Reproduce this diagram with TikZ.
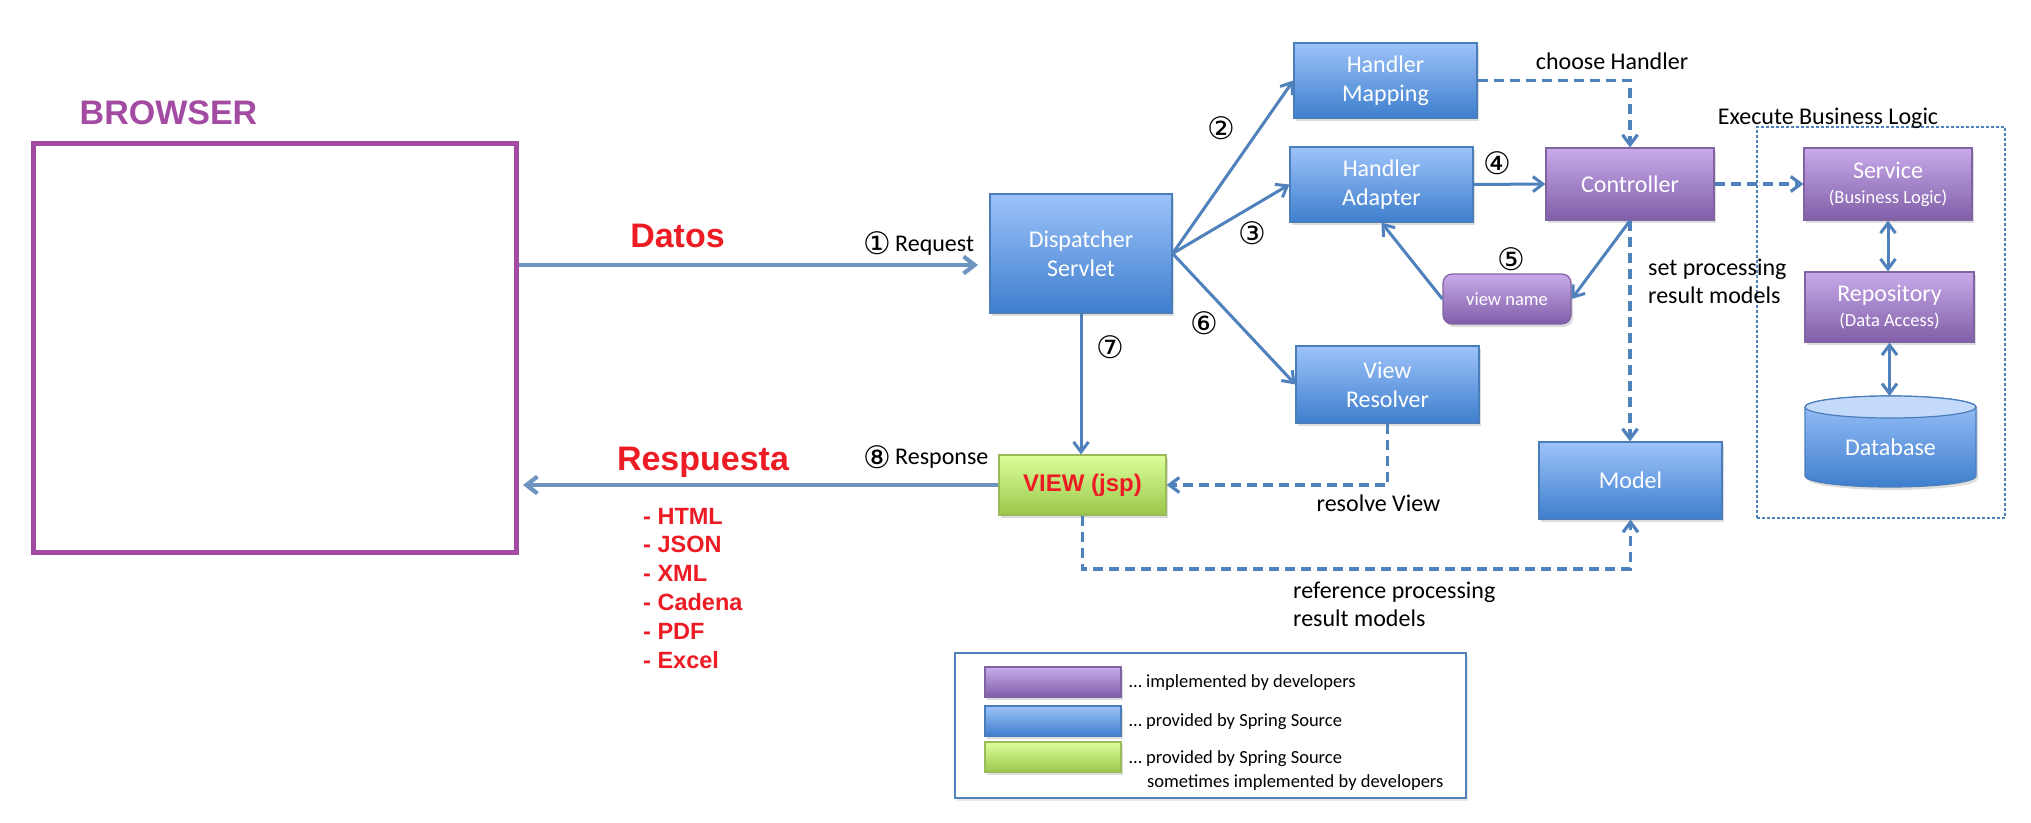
\documentclass[tikz,border=0pt]{standalone}
\usepackage{fontspec}
\setmainfont{Carlito}
\newfontfamily\lsans{Liberation Sans}
\newfontfamily\dvs{DejaVu Sans}
\usetikzlibrary{arrows.meta,shadows,shadings}
\newcommand\fsz[2]{\fontsize{#1}{#2}\selectfont}
\definecolor{purp}{RGB}{163,74,163}
\definecolor{redc}{RGB}{237,28,36}
\definecolor{arrowblue}{RGB}{79,129,189}
\definecolor{datablue}{RGB}{111,148,194}
\definecolor{bluetop}{RGB}{157,195,250}
\definecolor{bluebot}{RGB}{62,126,205}
\definecolor{blueedge}{RGB}{74,126,187}
\definecolor{purptop}{RGB}{200,170,234}
\definecolor{purpbot}{RGB}{128,94,168}
\definecolor{purpedge}{RGB}{128,100,162}
\definecolor{greentop}{RGB}{220,255,155}
\definecolor{greenbot}{RGB}{155,198,75}
\definecolor{greenedge}{RGB}{155,187,89}
\definecolor{dbtopc}{RGB}{195,218,250}
\definecolor{legedge}{RGB}{79,129,189}
\tikzset{
  box/.style={rectangle, inner sep=0pt, align=center, text=white, font=\fsz{24}{29},
    line width=1.2pt, drop shadow={shadow xshift=2pt, shadow yshift=-3pt, opacity=0.22, fill=black!60}},
  bluebox/.style={box, draw=blueedge, top color=bluetop, bottom color=bluebot},
  purplebox/.style={box, draw=purpedge, top color=purptop, bottom color=purpbot},
  greenbox/.style={box, draw=greenedge, top color=greentop, bottom color=greenbot},
  arr/.style={draw=arrowblue, line width=3pt, -{Straight Barb[length=10pt,width=15pt]}},
  bigarr/.style={draw=datablue, line width=4.2pt, -{Straight Barb[length=11pt,width=17pt]}},
  dasharr/.style={draw=arrowblue, line width=3.2pt, dash pattern=on 10pt off 6pt, -{Straight Barb[length=10pt,width=15pt]}},
  dbl/.style={draw=arrowblue, line width=3pt, {Straight Barb[length=10pt,width=15pt]}-{Straight Barb[length=10pt,width=15pt]}},
  lbl/.style={font=\fsz{24}{28.5}, inner sep=0pt, text=black},
  leg/.style={font=\fsz{18.5}{22}, inner sep=0pt, text=black},
  num/.style={font=\dvs\fsz{31}{34}, inner sep=0pt, text=black},
  redbig/.style={font=\lsans\bfseries\fsz{34}{40}, text=redc, inner sep=0pt},
  redsmall/.style={font=\lsans\bfseries\fsz{23.5}{28}, text=redc, inner sep=0pt},
}
\begin{document}
\begin{tikzpicture}[x=1pt,y=-1pt]
\useasboundingbox[fill=white] (0,0) rectangle (2031,822);

% browser
\node[redbig, text=purp, anchor=base] (browsertitle) at (168.5,124) {BROWSER};
\node[draw=purp, line width=5pt, minimum width=483pt, minimum height=409pt, inner sep=0pt] (browser) at (275,348) {};

% main boxes
\node[bluebox, minimum width=182pt, minimum height=119pt] (ds) at (1081,253.5) {Dispatcher\\Servlet};
\node[bluebox, minimum width=183pt, minimum height=75pt] (hm) at (1385.5,80.5) {Handler\\Mapping};
\node[bluebox, minimum width=183pt, minimum height=75pt] (ha) at (1381.5,184.5) {Handler\\Adapter};
\node[purplebox, minimum width=168pt, minimum height=72pt] (ctrl) at (1630,184) {Controller};
\node[purplebox, rounded corners=9pt, minimum width=128pt, minimum height=50pt, font=\fsz{18.5}{22}] (vn) at (1507,299) {view name};
\node[bluebox, minimum width=183pt, minimum height=77pt] (vr) at (1387.5,384.5) {View\\Resolver};
\node[greenbox, minimum width=167pt, minimum height=60pt, text=redc, font=\lsans\bfseries\fsz{24}{28}] (view) at (1082.5,485) {VIEW (jsp)};
\node[bluebox, minimum width=183pt, minimum height=77pt] (model) at (1630.5,480.5) {Model};

% business logic group
\node[draw=arrowblue, line width=1.2pt, dash pattern=on 3pt off 2pt, minimum width=248pt, minimum height=391pt, inner sep=0pt] (grp) at (1881,322.5) {};
\node[purplebox, minimum width=168pt, minimum height=72pt, font=\fsz{24}{25}] (svc) at (1888,184) {Service\\{\fsz{18.5}{22}(Business Logic)}};
\node[purplebox, minimum width=169pt, minimum height=70pt, font=\fsz{24}{25}] (repo) at (1889.5,307) {Repository\\{\fsz{18.5}{22}(Data Access)}};

% database cylinder
\path[draw=blueedge, line width=1.2pt, top color=bluetop, bottom color=bluebot,
      drop shadow={shadow xshift=2pt, shadow yshift=-3pt, opacity=0.22, fill=black!60}]
  (1805,407) -- (1805,476) arc[start angle=180, end angle=0, x radius=85.5, y radius=11]
  -- (1976,407) arc[start angle=0, end angle=-180, x radius=85.5, y radius=11] -- cycle;
\draw[draw=blueedge, line width=1.2pt, fill=dbtopc] (1890.5,407) ellipse[x radius=85.5, y radius=11];
\node[text=white, font=\fsz{24}{28}, inner sep=0pt] (db) at (1890.5,447) {Database};
\coordinate (dbtop) at (1890.5,396);

% texts
\node[redbig, anchor=base] (datos) at (677.5,247) {Datos};
\node[redbig, anchor=base] (respuesta) at (703,470) {Respuesta};
\foreach \t [count=\i from 0] in {- HTML,- JSON,- XML,- Cadena,- PDF,- Excel}
  \node[redsmall, anchor=base west] (fmt\i) at (643,524+28.9*\i) {\t};

\node[num] (c1) at (877,243) {①};
\node[lbl, anchor=base west] (req) at (895,251) {Request};
\node[num] (c8) at (877,457) {⑧};
\node[lbl, anchor=base west] (resp) at (895,464) {Response};
\node[num] (c2) at (1221,128) {②};
\node[num] (c3) at (1252,233) {③};
\node[num] (c4) at (1497,163) {④};
\node[num] (c5) at (1511,259) {⑤};
\node[num] (c6) at (1204,323) {⑥};
\node[num] (c7) at (1110,347) {⑦};

\node[lbl, anchor=base] (choose) at (1612,69) {choose Handler};
\node[lbl, anchor=base] (exec) at (1828,124) {Execute Business Logic};
\node[lbl, anchor=base west] (set1) at (1648,275) {set processing};
\node[lbl, anchor=base west] (set2) at (1648,303.5) {result models};
\node[lbl, anchor=base] (resolve) at (1378.5,511) {resolve View};
\node[lbl, anchor=base west] (ref1) at (1293,598) {reference processing};
\node[lbl, anchor=base west] (ref2) at (1293,626) {result models};

% connectors
\coordinate (dsin) at (990,265);
\draw[bigarr, shorten >=12pt] (browser.east |- dsin) -- (dsin);
\draw[bigarr, shorten >=4pt] (view.west) -- (view.west -| browser.east);
\draw[arr] (ds.south) -- (ds.south |- view.north);
\draw[arr] (ds.east) -- (hm.west);
\draw[arr] (ds.east) -- (ha.west);
\draw[arr] (ds.east) -- (vr.west);
\draw[arr] (ha.east) -- (ctrl.west);
\draw[arr] (ctrl.south) -- (vn.east);
\draw[arr] (vn.west) -- (ha.south);
\draw[dasharr] (hm.east) -- (hm.east -| ctrl.north) -- (ctrl.north);
\draw[dasharr] (ctrl.south) -- (ctrl.south |- model.north);
\draw[dasharr] (ctrl.east) -- (svc.west);
\draw[dasharr] (vr.south) -- (vr.south |- view.east) -- (view.east);
\coordinate (refc) at (0,569);
\draw[dasharr] (view.south) -- (view.south |- refc) -- (refc -| model.south) -- (model.south);
\draw[dbl] (svc.south) -- (svc.south |- repo.north);
\draw[dbl] (repo.south) -- (repo.south |- dbtop);

% legend
\node[draw=legedge, line width=1.3pt, fill=white, minimum width=511pt, minimum height=145pt, inner sep=0pt,
      drop shadow={shadow xshift=2pt, shadow yshift=-3pt, opacity=0.15, fill=black!60}] (legend) at (1210.5,725.5) {};
\node[purplebox, minimum width=136pt, minimum height=30pt] (sw1) at (1053,682) {};
\node[bluebox, minimum width=136pt, minimum height=30pt] (sw2) at (1053,721) {};
\node[greenbox, minimum width=136pt, minimum height=30pt] (sw3) at (1053,757) {};
\node[leg, anchor=base west] (t1) at (1129,687.5) {… implemented by developers};
\node[leg, anchor=base west] (t2) at (1129,726.5) {… provided by Spring Source};
\node[leg, anchor=base west] (t3) at (1129,763.5) {… provided by Spring Source};
\node[leg, anchor=base west] (t4) at (1147,787.5) {sometimes implemented by developers};
\end{tikzpicture}
\end{document}
